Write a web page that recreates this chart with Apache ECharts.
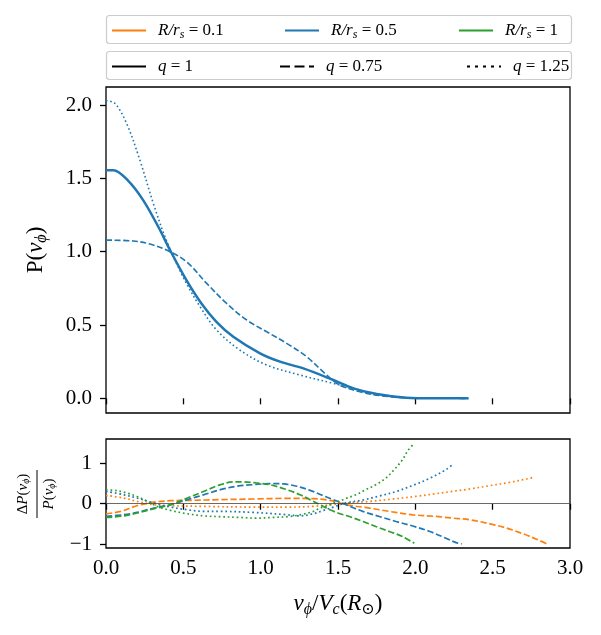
<!DOCTYPE html>
<html>
<head>
<meta charset="utf-8">
<script src="https://cdn.jsdelivr.net/npm/echarts@6.0.0/dist/echarts.min.js"></script>
<style>
  html, body { margin: 0; padding: 0; background: #fff; }
  #main { width: 601px; height: 635px; }
</style>
</head>
<body>
<div id="main"></div>
<script>
// matplotlib tab10 colours
const ORANGE = '#ff7f0e', BLUE = '#1f77b4', GREEN = '#2ca02c';
const SERIF = '"Liberation Serif", "DejaVu Serif", serif';

// ---- top panel: P(v_phi), R/r_s = 0.5 ----
const xTopQ1 = [0, 0.047, 0.144, 0.24, 0.338, 0.414, 0.52, 0.617, 0.714, 0.823, 0.996, 1.125, 1.276, 1.47, 1.6, 1.75, 1.94, 2.11, 2.343];
const yTopQ1 = [1.556, 1.556, 1.483, 1.352, 1.17, 1.011, 0.806, 0.647, 0.522, 0.42, 0.307, 0.25, 0.204, 0.125, 0.068, 0.029, 0.004, 0.0, 0.0];

const xTopQ075 = [0, 0.177, 0.284, 0.392, 0.52, 0.651, 0.78, 0.91, 1.039, 1.168, 1.297, 1.427, 1.51, 1.642, 1.79, 2.0, 2.33];
const yTopQ075 = [1.079, 1.073, 1.052, 1.011, 0.932, 0.784, 0.647, 0.534, 0.454, 0.375, 0.284, 0.159, 0.091, 0.045, 0.016, 0.002, 0];

const xTopQ125 = [0, 0.058, 0.133, 0.219, 0.306, 0.381, 0.446, 0.52, 0.608, 0.715, 0.866, 1.039, 1.254, 1.47, 1.6, 1.79, 2.0, 2.36];
const yTopQ125 = [2.03, 2.011, 1.875, 1.625, 1.329, 1.102, 0.943, 0.784, 0.625, 0.466, 0.329, 0.227, 0.159, 0.102, 0.068, 0.023, 0.002, 0];

// ---- bottom panel: relative difference ----
const xOrangeDash = [0, 0.095, 0.2, 0.31, 0.418, 0.547, 0.74, 0.953, 1.168, 1.34, 1.448, 1.552, 1.703, 1.832, 1.983, 2.134, 2.241, 2.353, 2.483, 2.59, 2.698, 2.784, 2.849];
const yOrangeDash = [-0.248, -0.19, -0.05, 0.04, 0.074, 0.083, 0.1, 0.116, 0.132, 0.124, 0.083, -0.025, -0.107, -0.19, -0.273, -0.314, -0.355, -0.397, -0.496, -0.6, -0.744, -0.876, -0.99];

const xOrangeDot = [0, 0.116, 0.2, 0.31, 0.418, 0.634, 0.953, 1.168, 1.34, 1.42, 1.552, 1.703, 1.853, 2.004, 2.134, 2.241, 2.353, 2.483, 2.612, 2.72, 2.774];
const yOrangeDot = [0.207, 0.14, 0.058, -0.025, -0.05, -0.066, -0.083, -0.083, -0.066, -0.04, 0.017, 0.058, 0.116, 0.182, 0.248, 0.306, 0.364, 0.446, 0.529, 0.61, 0.66];

const xBlueDash = [0, 0.116, 0.2, 0.31, 0.418, 0.526, 0.634, 0.74, 0.845, 0.953, 1.06, 1.147, 1.233, 1.32, 1.405, 1.47, 1.552, 1.66, 1.767, 1.875, 1.983, 2.09, 2.198, 2.263, 2.3];
const yBlueDash = [-0.314, -0.27, -0.215, -0.107, -0.025, 0.1, 0.223, 0.347, 0.43, 0.47, 0.496, 0.488, 0.43, 0.33, 0.198, 0.1, -0.025, -0.19, -0.314, -0.438, -0.55, -0.68, -0.851, -0.96, -0.99];

const xBlueDot = [0, 0.116, 0.2, 0.31, 0.418, 0.526, 0.634, 0.74, 0.953, 1.168, 1.254, 1.34, 1.405, 1.47, 1.552, 1.66, 1.767, 1.875, 1.983, 2.09, 2.198, 2.246];
const yBlueDot = [0.306, 0.22, 0.14, 0.017, -0.083, -0.149, -0.19, -0.19, -0.215, -0.27, -0.3, -0.248, -0.165, -0.083, 0.02, 0.09, 0.19, 0.3, 0.45, 0.62, 0.84, 0.98];

const xGreenDash = [0, 0.116, 0.2, 0.31, 0.418, 0.526, 0.634, 0.74, 0.823, 0.888, 0.97, 1.06, 1.168, 1.254, 1.32, 1.384, 1.448, 1.513, 1.573, 1.66, 1.745, 1.832, 1.918, 1.993];
const yGreenDash = [-0.339, -0.3, -0.23, -0.124, -0.025, 0.14, 0.306, 0.47, 0.537, 0.537, 0.512, 0.47, 0.347, 0.223, 0.1, -0.025, -0.149, -0.248, -0.314, -0.438, -0.562, -0.686, -0.81, -0.975];

const xGreenDot = [0, 0.073, 0.138, 0.2, 0.267, 0.33, 0.418, 0.526, 0.634, 0.74, 0.866, 0.97, 1.078, 1.19, 1.276, 1.34, 1.384, 1.427, 1.47, 1.513, 1.552, 1.616, 1.68, 1.745, 1.81, 1.864, 1.918, 1.95, 1.983];
const yGreenDot = [0.347, 0.32, 0.26, 0.18, 0.06, -0.066, -0.165, -0.248, -0.3, -0.32, -0.339, -0.355, -0.339, -0.314, -0.256, -0.19, -0.107, -0.06, 0.01, 0.07, 0.13, 0.223, 0.347, 0.47, 0.636, 0.843, 1.09, 1.3, 1.45];

// tick values
const yTopTicks = [0, 0.5, 1, 1.5, 2];
const yBotTicks = [-1, 0, 1];

const zip = (xs, ys) => xs.map((x, i) => [x, ys[i]]);

const DASH_TOP = [6, 2.6], DOT_TOP = [1.6, 2.6];
const DASH_BOT = [6.3, 2.7], DOT_BOT = [1.7, 2.8];
const DASH_LEG = [10, 4.5], DOT_LEG = [3, 5];

function line(name, xs, ys, color, width, dash, panel) {
  return {
    name: name, type: 'line', xAxisIndex: panel, yAxisIndex: panel,
    data: zip(xs, ys), symbol: 'none', smooth: 0.35,
    color: color, silent: true,
    lineStyle: { color: color, width: width, type: dash || 'solid', cap: 'butt' }
  };
}
// legend-only entries
function dummy(name, color, dash) {
  return {
    name: name, type: 'line', xAxisIndex: 0, yAxisIndex: 0, data: [], symbol: 'none',
    color: color, lineStyle: { color: color, width: 2.6, type: dash || 'solid', cap: 'butt' }
  };
}

const legendText = {
  R01: '{i|R/r}{s|s}{n| = 0.1}',
  R05: '{i|R/r}{s|s}{n| = 0.5}',
  R1: '{i|R/r}{s|s}{n| = 1}',
  q1: '{i|q}{n| = 1}',
  q075: '{i|q}{n| = 0.75}',
  q125: '{i|q}{n| = 1.25}'
};
const legendRich = {
  i: { fontFamily: SERIF, fontStyle: 'italic', fontSize: 17, color: '#000' },
  s: { fontFamily: SERIF, fontStyle: 'italic', fontSize: 12, color: '#000', padding: [9, 0, 0, 0] },
  n: { fontFamily: SERIF, fontSize: 17, color: '#000' }
};
function legendAt(name, left, top) {
  return {
    data: [name], left: left, top: top, padding: 0, itemWidth: 34, itemHeight: 14,
    selectedMode: false, itemStyle: { opacity: 0, borderWidth: 0 },
    formatter: n => legendText[n],
    textStyle: { padding: [0, 0, 0, 7], rich: legendRich }
  };
}

const labelRich = {
  t: { fontFamily: SERIF, fontSize: 23, color: '#000' },
  i: { fontFamily: SERIF, fontStyle: 'italic', fontSize: 23, color: '#000' },
  s: { fontFamily: SERIF, fontStyle: 'italic', fontSize: 16, color: '#000', padding: [12, 0, 0, 0] }
};
const fracRich = {
  t: { fontFamily: SERIF, fontSize: 15, color: '#000' },
  i: { fontFamily: SERIF, fontStyle: 'italic', fontSize: 15, color: '#000' },
  s: { fontFamily: SERIF, fontStyle: 'italic', fontSize: 10, color: '#000', padding: [7, 0, 0, 0] }
};

const tickStyle = { color: '#000', width: 1.3 };
const labelStyle = { color: '#000', fontFamily: SERIF, fontSize: 21 };

const chart = echarts.init(document.getElementById('main'), null, { renderer: 'canvas' });
chart.setOption({
  animation: false,
  backgroundColor: '#fff',
  grid: [
    { left: 106, top: 87, width: 464, height: 326, show: true, borderColor: '#000', borderWidth: 1.3 },
    { left: 106, top: 439, width: 464, height: 109, show: true, borderColor: '#000', borderWidth: 1.3 }
  ],
  xAxis: [
    {
      gridIndex: 0, type: 'value', min: 0, max: 3, interval: 0.5,
      axisLine: { show: false }, splitLine: { show: false },
      axisTick: { show: true, length: 6, lineStyle: tickStyle },
      axisLabel: { show: false }
    },
    {
      gridIndex: 1, type: 'value', min: 0, max: 3, interval: 0.5,
      axisLine: { show: false }, splitLine: { show: false },
      axisTick: { show: true, length: 6, lineStyle: tickStyle },
      axisLabel: Object.assign({ margin: 10, formatter: v => v.toFixed(1) }, labelStyle),
      name: '{i|v}{s|ϕ}{t|/}{i|V}{s|c}{t|(}{i|R}{s|⊙}{t|)}',
      nameLocation: 'middle', nameGap: 42,
      nameTextStyle: { rich: labelRich }
    }
  ],
  yAxis: [
    {
      gridIndex: 0, type: 'value', min: -0.1, max: 2.123,
      axisLine: { show: false }, splitLine: { show: false },
      axisTick: { show: true, length: 6, lineStyle: tickStyle, customValues: yTopTicks },
      axisLabel: Object.assign({ margin: 14, customValues: yTopTicks, formatter: v => v.toFixed(1) }, labelStyle),
      name: '{t|P(}{i|v}{s|ϕ}{t|)}',
      nameLocation: 'middle', nameRotate: 90, nameGap: 56,
      nameTextStyle: { rich: labelRich }
    },
    {
      gridIndex: 1, type: 'value', min: -1.092, max: 1.596,
      axisLine: { show: false }, splitLine: { show: false },
      axisTick: { show: true, length: 6, lineStyle: tickStyle, customValues: yBotTicks },
      axisLabel: Object.assign({ margin: 14, customValues: yBotTicks, formatter: v => (v < 0 ? '\u2212' + Math.abs(v) : String(v)) }, labelStyle)
    }
  ],
  legend: [
    legendAt('R01', 111, 22), legendAt('R05', 284, 22), legendAt('R1', 458, 22),
    legendAt('q1', 111, 58), legendAt('q075', 279, 58), legendAt('q125', 466, 58)
  ],
  graphic: [
    { type: 'rect', shape: { x: 106.5, y: 15.5, width: 465, height: 28, r: 3 }, style: { fill: 'none', stroke: '#cccccc', lineWidth: 1.2 }, silent: true },
    { type: 'rect', shape: { x: 106.5, y: 51.5, width: 465, height: 28, r: 3 }, style: { fill: 'none', stroke: '#cccccc', lineWidth: 1.2 }, silent: true },
    {
      type: 'group', x: 37, y: 494, rotation: Math.PI / 2, silent: true,
      children: [
        { type: 'text', x: 0, y: -14, style: { text: '{t|Δ}{i|P}{t|(}{i|v}{s|ϕ}{t|)}', rich: fracRich, align: 'center', verticalAlign: 'middle' } },
        { type: 'line', shape: { x1: -24, y1: 0, x2: 24, y2: 0 }, style: { stroke: '#000', lineWidth: 1 } },
        { type: 'text', x: 0, y: 12, style: { text: '{i|P}{t|(}{i|v}{s|ϕ}{t|)}', rich: fracRich, align: 'center', verticalAlign: 'middle' } }
      ]
    }
  ],
  series: [
    dummy('R01', ORANGE), dummy('R05', BLUE), dummy('R1', GREEN),
    dummy('q1', '#000'), dummy('q075', '#000', DASH_LEG), dummy('q125', '#000', DOT_LEG),

    line('top q=1', xTopQ1, yTopQ1, BLUE, 2.5, null, 0),
    line('top q=0.75', xTopQ075, yTopQ075, BLUE, 1.6, DASH_TOP, 0),
    line('top q=1.25', xTopQ125, yTopQ125, BLUE, 1.6, DOT_TOP, 0),

    Object.assign(line('orange q=0.75', xOrangeDash, yOrangeDash, ORANGE, 1.7, DASH_BOT, 1), {
      markLine: {
        silent: true, symbol: 'none', label: { show: false },
        lineStyle: { color: '#444', width: 0.8, type: 'solid' },
        data: [{ yAxis: 0 }]
      }
    }),
    line('orange q=1.25', xOrangeDot, yOrangeDot, ORANGE, 1.7, DOT_BOT, 1),
    line('blue q=0.75', xBlueDash, yBlueDash, BLUE, 1.7, DASH_BOT, 1),
    line('blue q=1.25', xBlueDot, yBlueDot, BLUE, 1.7, DOT_BOT, 1),
    line('green q=0.75', xGreenDash, yGreenDash, GREEN, 1.7, DASH_BOT, 1),
    line('green q=1.25', xGreenDot, yGreenDot, GREEN, 1.7, DOT_BOT, 1)
  ]
});
</script>
</body>
</html>
